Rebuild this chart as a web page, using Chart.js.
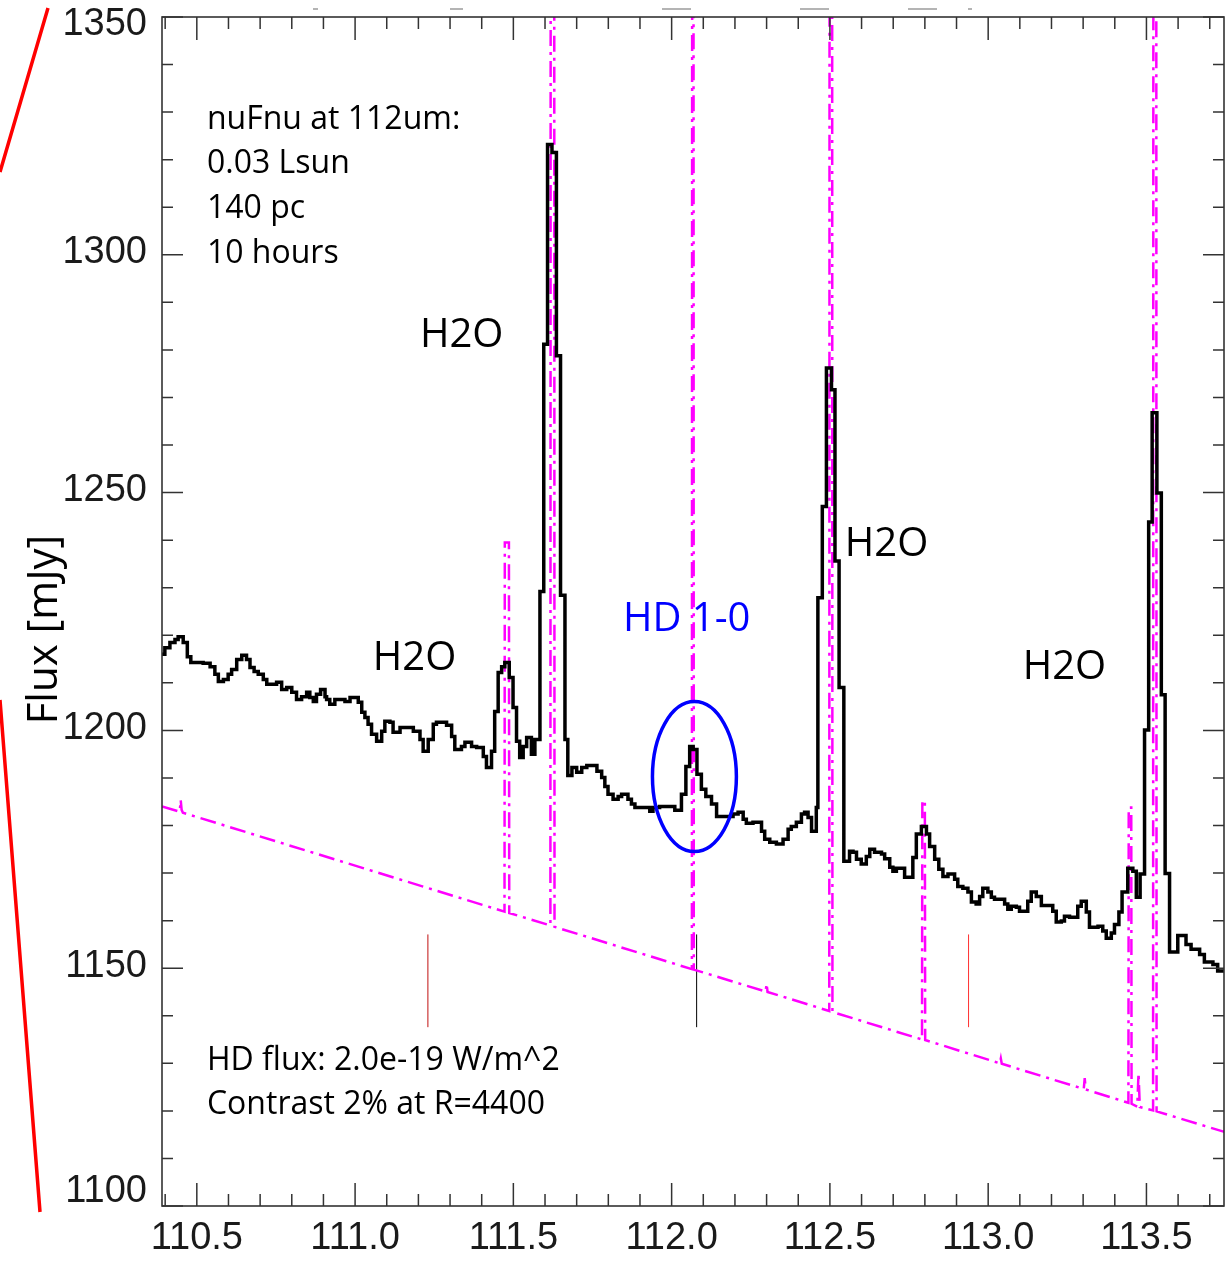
<!DOCTYPE html>
<html>
<head>
<meta charset="utf-8">
<script src="https://cdn.jsdelivr.net/npm/chart.js@4.4.1/dist/chart.umd.min.js"></script>
<style>
  html, body { margin: 0; padding: 0; background: #ffffff; }
  #wrap { width: 1229px; height: 1268px; position: relative; }
</style>
</head>
<body>
<div id="wrap"><canvas id="c" width="1229" height="1268"></canvas></div>
<script>
// ---------------- DATA ----------------
// Observed spectrum: left edge of each step (um) and flux level (mJy)
const wavelength = [
  110.390,110.399,110.415,110.431,110.441,110.457,110.470,110.481,110.520,110.542,
  110.557,110.568,110.584,110.599,110.610,110.626,110.642,110.657,110.668,110.681,
  110.694,110.710,110.721,110.752,110.768,110.784,110.800,110.815,110.831,110.847,
  110.857,110.868,110.878,110.891,110.905,110.910,110.920,110.936,110.968,110.984,
  111.010,111.021,111.031,111.041,111.052,111.068,111.084,111.094,111.110,111.120,
  111.142,111.184,111.205,111.215,111.231,111.247,111.257,111.289,111.305,111.315,
  111.336,111.347,111.368,111.384,111.405,111.415,111.431,111.441,111.452,111.463,
  111.473,111.487,111.499,111.510,111.520,111.531,111.542,111.557,111.568,111.584,
  111.596,111.608,111.622,111.636,111.649,111.663,111.672,111.685,111.700,111.716,
  111.732,111.764,111.779,111.789,111.799,111.815,111.831,111.842,111.862,111.873,
  111.884,111.931,111.941,111.962,112.010,112.031,112.045,112.057,112.068,112.080,
  112.094,112.108,112.126,112.142,112.194,112.210,112.226,112.236,112.257,112.284,
  112.294,112.310,112.331,112.352,112.368,112.378,112.394,112.410,112.420,112.431,
  112.442,112.457,112.462,112.476,112.489,112.505,112.516,112.529,112.544,112.562,
  112.573,112.584,112.599,112.615,112.626,112.641,112.663,112.673,112.689,112.699,
  112.710,112.736,112.762,112.773,112.789,112.805,112.815,112.831,112.844,112.857,
  112.873,112.894,112.904,112.920,112.936,112.947,112.962,112.973,112.983,112.999,
  113.010,113.020,113.052,113.062,113.073,113.089,113.099,113.125,113.136,113.152,
  113.168,113.204,113.215,113.231,113.241,113.257,113.283,113.294,113.310,113.320,
  113.347,113.362,113.373,113.389,113.399,113.413,113.423,113.441,113.457,113.468,
  113.480,113.494,113.507,113.518,113.533,113.547,113.559,113.573,113.599,113.625,
  113.641,113.668,113.683,113.710,113.725,113.745
];
const flux = [
  1216.0,1217.4,1218.5,1219.1,1219.7,1218.5,1215.5,1214.3,1214.1,1213.4,
  1211.8,1210.3,1210.7,1211.8,1212.8,1214.9,1215.8,1214.9,1213.2,1212.4,
  1211.8,1210.7,1209.7,1210.1,1208.6,1209.0,1208.0,1206.5,1207.1,1208.0,
  1206.9,1206.1,1207.6,1208.6,1207.1,1206.5,1205.5,1206.5,1206.1,1206.9,
  1205.9,1203.8,1202.7,1201.3,1199.2,1197.7,1199.8,1201.9,1201.7,1199.6,
  1200.6,1199.8,1198.1,1195.6,1198.1,1201.3,1201.7,1201.1,1198.7,1196.0,
  1196.6,1197.5,1196.6,1196.4,1194.5,1192.2,1195.6,1204.0,1212.2,1213.4,
  1214.3,1211.1,1204.8,1197.7,1194.3,1196.6,1198.5,1195.0,1198.1,1229.2,
  1281.2,1323.2,1321.5,1278.8,1228.4,1198.1,1190.5,1192.2,1191.2,1192.2,
  1192.6,1191.4,1190.1,1188.2,1186.6,1185.5,1186.1,1186.6,1185.5,1184.5,
  1183.8,1183.0,1183.8,1184.0,1183.2,1186.6,1192.4,1196.6,1196.0,1190.8,
  1187.6,1186.1,1184.5,1181.9,1182.4,1182.8,1181.3,1180.5,1180.7,1178.8,
  1177.1,1176.5,1176.1,1177.1,1179.2,1179.8,1180.7,1182.4,1182.8,1181.7,
  1178.8,1183.8,1227.9,1247.1,1276.2,1271.6,1235.6,1209.0,1172.5,1174.6,
  1174.4,1172.9,1171.9,1173.5,1175.0,1174.4,1174.0,1173.0,1171.2,1170.4,
  1171.0,1169.1,1173.3,1178.2,1179.8,1178.2,1175.6,1172.9,1170.8,1169.3,
  1169.8,1168.7,1167.2,1166.8,1166.0,1163.9,1163.5,1165.1,1166.8,1166.0,
  1164.9,1164.5,1163.5,1162.4,1163.0,1162.8,1162.0,1164.1,1166.0,1165.1,
  1163.2,1162.0,1159.7,1159.9,1160.9,1160.7,1163.0,1164.1,1161.8,1158.6,
  1158.8,1157.8,1156.3,1157.4,1159.2,1161.8,1166.0,1171.0,1170.4,1164.9,
  1169.8,1200.1,1243.8,1266.8,1249.9,1207.5,1169.9,1153.4,1156.9,1155.0,
  1154.0,1152.9,1151.3,1150.8,1149.4,1149.4
];

// Model spectrum (magenta dash-dot): vertices (um, mJy); strong lines run off the top
const modelWavelength = [
  110.390,110.446,110.449,110.452,110.456,
  111.472,111.473,111.486,111.487,
  111.617,111.618,111.629,111.630,
  112.064,112.065,112.069,112.070,
  112.297,112.300,112.303,
  112.498,112.499,112.507,112.508,
  112.791,112.792,112.800,112.801,
  113.037,113.040,113.043,
  113.302,113.305,113.308,
  113.443,113.444,113.452,113.453,
  113.471,113.475,113.479,
  113.521,113.522,113.531,113.532,
  113.750
];
const modelFlux = [
  1184.0,1182.9,1185.4,1183.3,1182.7,
  1161.9,1239.5,1239.5,1161.6,
  1159.0,1400,1400,1158.7,
  1149.8,1400,1400,1149.7,
  1145.1,1146.8,1145.0,
  1141.0,1400,1400,1140.8,
  1135.0,1185.2,1185.2,1134.9,
  1130.0,1131.0,1129.9,
  1124.6,1126.9,1124.5,
  1121.7,1183.8,1183.8,1121.5,
  1120.9,1128.0,1120.8,
  1120.1,1400,1400,1119.9,
  1115.5
];

// Thin vertical marker lines
const markerWavelength = [111.230, 112.079, 112.938];
const markerColor = ['#c01010', '#000000', '#ff3030'];
const markerFluxRange = [1137.6, 1157.1];

// Axis ranges and tick steps
const xRange = [110.39, 113.745];
const yRange = [1100, 1350];
const xMajorStep = 0.5, xMinorStep = 0.1;
const yMajorStep = 50, yMinorStep = 10;

// HD 1-0 ellipse (centre um, mJy; half-axes um, mJy)
const ellipse = { x: 112.072, y: 1190.3, rx: 0.1326, ry: 15.76 };

// Annotations: text, wavelength (left), flux (baseline), size, colour
const annotText = ['nuFnu at 112um:', '0.03 Lsun', '140 pc', '10 hours',
                   'H2O', 'H2O', 'HD 1-0', 'H2O', 'H2O',
                   'HD flux: 2.0e-19 W/m^2', 'Contrast 2% at R=4400'];
const annotX = [110.532, 110.532, 110.532, 110.532,
                111.205, 111.056, 111.846, 112.547, 113.109,
                110.532, 110.532];
const annotY = [1326.5, 1317.1, 1307.7, 1298.3,
                1280.7, 1212.8, 1220.8, 1236.6, 1210.9,
                1128.6, 1119.3];
const annotSize = [32, 32, 32, 32, 40, 40, 40, 40, 40, 32, 32];
const annotColor = ['#000','#000','#000','#000','#000','#000','#0000ff','#000','#000','#000','#000'];

const yTitle = 'Flux [mJy]';

// ---------------- CHART ----------------
const toXY = (xs, ys) => xs.map((x, i) => ({ x: x, y: ys[i] }));

const datasets = [
  {
    label: 'model',
    data: toXY(modelWavelength, modelFlux),
    borderColor: '#ff00ff',
    borderWidth: 2.5,
    borderDash: [16, 6, 3, 6],
    pointRadius: 0,
    tension: 0,
    order: 2
  },
  {
    label: 'spectrum',
    data: toXY(wavelength, flux),
    borderColor: '#000000',
    borderWidth: 3.5,
    stepped: 'before',
    pointRadius: 0,
    order: 1
  }
];
markerWavelength.forEach((w, i) => {
  datasets.push({
    label: 'marker' + i,
    data: [{ x: w, y: markerFluxRange[0] }, { x: w, y: markerFluxRange[1] }],
    borderColor: markerColor[i],
    borderWidth: 1,
    pointRadius: 0,
    order: 3
  });
});

const decorPlugin = {
  id: 'decor',
  afterDatasetsDraw(chart) {
    const ctx = chart.ctx, xs = chart.scales.x, ys = chart.scales.y;
    const cx = xs.getPixelForValue(ellipse.x), cy = ys.getPixelForValue(ellipse.y);
    const rx = Math.abs(xs.getPixelForValue(ellipse.x + ellipse.rx) - cx);
    const ry = Math.abs(ys.getPixelForValue(ellipse.y + ellipse.ry) - cy);
    ctx.save();
    ctx.strokeStyle = '#0000ff';
    ctx.lineWidth = 3.5;
    ctx.beginPath();
    ctx.ellipse(cx, cy, rx, ry, 0, 0, Math.PI * 2);
    ctx.stroke();
    ctx.restore();
    ctx.save();
    ctx.textAlign = 'left';
    ctx.textBaseline = 'alphabetic';
    annotText.forEach((t, i) => {
      ctx.font = annotSize[i] + 'px "Open Sans"';
      ctx.fillStyle = annotColor[i];
      ctx.fillText(t, xs.getPixelForValue(annotX[i]), ys.getPixelForValue(annotY[i]));
    });
    ctx.restore();
  },
  afterDraw(chart) {
    const ctx = chart.ctx, xs = chart.scales.x, ys = chart.scales.y;
    const a = chart.chartArea;
    ctx.save();
    ctx.strokeStyle = '#333';
    ctx.lineWidth = 1.6;
    ctx.strokeRect(a.left, a.top, a.right - a.left, a.bottom - a.top);
    ctx.lineWidth = 1.5;
    const i0 = Math.ceil(xRange[0] / xMinorStep - 1e-6), i1 = Math.floor(xRange[1] / xMinorStep + 1e-6);
    const ratioX = Math.round(xMajorStep / xMinorStep);
    for (let i = i0; i <= i1; i++) {
      const px = xs.getPixelForValue(i * xMinorStep);
      const len = (i % ratioX === 0) ? 23 : 12;
      ctx.beginPath();
      ctx.moveTo(px, a.bottom); ctx.lineTo(px, a.bottom - len);
      ctx.moveTo(px, a.top); ctx.lineTo(px, a.top + len);
      ctx.stroke();
    }
    const j0 = Math.ceil(yRange[0] / yMinorStep), j1 = Math.floor(yRange[1] / yMinorStep);
    const ratioY = Math.round(yMajorStep / yMinorStep);
    for (let j = j0; j <= j1; j++) {
      const py = ys.getPixelForValue(j * yMinorStep);
      const len = (j % ratioY === 0) ? 21 : 11;
      ctx.beginPath();
      ctx.moveTo(a.left, py); ctx.lineTo(a.left + len, py);
      ctx.moveTo(a.right, py); ctx.lineTo(a.right - len, py);
      ctx.stroke();
    }
    ctx.fillStyle = '#1a1a1a';
    ctx.font = '38px "Liberation Sans", Arial, sans-serif';
    ctx.textAlign = 'right';
    ctx.textBaseline = 'middle';
    for (let v = yRange[0]; v <= yRange[1]; v += yMajorStep) {
      let py = ys.getPixelForValue(v) - 2;
      py = Math.min(Math.max(py, a.top + 8), a.bottom - 14);
      ctx.fillText(String(v), a.left - 15, py);
    }
    ctx.save();
    ctx.translate(a.left - 105, (a.top + a.bottom) / 2 + 18);
    ctx.rotate(-Math.PI / 2);
    ctx.font = '42px "Open Sans"';
    ctx.fillStyle = '#000';
    ctx.textAlign = 'center';
    ctx.textBaseline = 'alphabetic';
    ctx.fillText(yTitle, 0, 0);
    ctx.restore();
    // remnants of the cropped figure: red zoom lines at far left, grey marks at top
    ctx.strokeStyle = '#ff0000';
    ctx.lineWidth = 3.5;
    ctx.beginPath();
    ctx.moveTo(48, 8); ctx.lineTo(0, 172);
    ctx.moveTo(0, 700); ctx.lineTo(40, 1212);
    ctx.stroke();
    ctx.strokeStyle = '#b4b4b4';
    ctx.lineWidth = 2;
    ctx.beginPath();
    [[313, 318], [450, 463], [662, 691], [800, 829], [908, 937], [968, 972]].forEach(s => {
      ctx.moveTo(s[0], 9); ctx.lineTo(s[1], 9);
    });
    ctx.stroke();
    ctx.restore();
  }
};

new Chart(document.getElementById('c'), {
  type: 'line',
  data: { datasets: datasets },
  options: {
    responsive: false,
    animation: false,
    devicePixelRatio: 1,
    layout: { padding: { left: 0, top: 17, right: 5, bottom: 0 } },
    plugins: { legend: { display: false }, tooltip: { enabled: false } },
    scales: {
      x: {
        type: 'linear',
        min: xRange[0], max: xRange[1],
        grid: { display: false, drawTicks: false },
        border: { display: false },
        afterBuildTicks: (s) => {
          const t = [];
          for (let k = Math.ceil(xRange[0] / xMajorStep); k * xMajorStep <= xRange[1] + 1e-9; k++) {
            t.push({ value: k * xMajorStep });
          }
          s.ticks = t;
        },
        ticks: {
          autoSkip: false,
          maxRotation: 0,
          minRotation: 0,
          padding: 10,
          color: '#1a1a1a',
          font: { family: '"Liberation Sans", Arial, sans-serif', size: 38 },
          callback: (v) => Number(v).toFixed(1)
        },
        afterFit: (s) => { s.height = 62; s.paddingLeft = 0; s.paddingRight = 0; }
      },
      y: {
        type: 'linear',
        min: yRange[0], max: yRange[1],
        grid: { display: false, drawTicks: false },
        border: { display: false },
        ticks: { display: false, stepSize: yMajorStep },
        afterFit: (s) => { s.width = 162; s.paddingTop = 0; s.paddingBottom = 0; }
      }
    }
  },
  plugins: [decorPlugin]
});
</script>
</body>
</html>
